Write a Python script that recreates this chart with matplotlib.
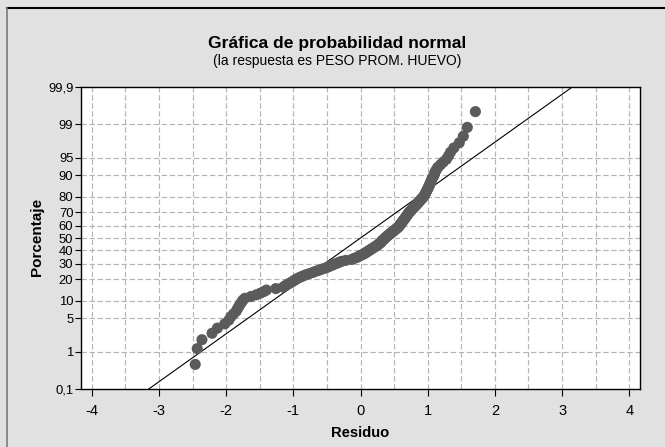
import matplotlib
matplotlib.use("Agg")
import matplotlib.pyplot as plt
from matplotlib import font_manager
from matplotlib.lines import Line2D
from statistics import NormalDist

# sorted residuals (n = 144)
residuals = [
    -2.46, -2.43, -2.36, -2.21, -2.13, -2.02, -1.96, -1.93, -1.89, -1.85,
    -1.83, -1.81, -1.79, -1.77, -1.75, -1.72, -1.63, -1.55, -1.49, -1.44,
    -1.40, -1.26, -1.15, -1.12, -1.09, -1.05, -1.02, -0.99, -0.96, -0.93,
    -0.89, -0.85, -0.81, -0.76, -0.71, -0.67, -0.62, -0.58, -0.53, -0.49,
    -0.46, -0.42, -0.39, -0.35, -0.32, -0.28, -0.22, -0.13, -0.10, -0.06,
    -0.03, -0.01, 0.02, 0.05, 0.07, 0.09, 0.11, 0.13, 0.15, 0.17,
    0.19, 0.21, 0.23, 0.25, 0.27, 0.28, 0.30, 0.31, 0.32, 0.33,
    0.35, 0.36, 0.37, 0.39, 0.40, 0.42, 0.43, 0.45, 0.46, 0.48,
    0.50, 0.51, 0.53, 0.54, 0.56, 0.57, 0.58, 0.59, 0.60, 0.61,
    0.62, 0.63, 0.64, 0.65, 0.66, 0.67, 0.68, 0.69, 0.70, 0.71,
    0.72, 0.73, 0.75, 0.76, 0.77, 0.79, 0.80, 0.82, 0.83, 0.85,
    0.86, 0.88, 0.89, 0.91, 0.92, 0.94, 0.95, 0.96, 0.97, 0.98,
    0.99, 1.00, 1.01, 1.02, 1.03, 1.04, 1.05, 1.06, 1.07, 1.09,
    1.10, 1.11, 1.13, 1.15, 1.19, 1.23, 1.28, 1.31, 1.34, 1.39,
    1.47, 1.53, 1.59, 1.71,
]

# fitted normal reference line
line_mean = 0.0
line_sd = 1.02

pct_ticks = [0.1, 1, 5, 10, 20, 30, 40, 50, 60, 70, 80, 90, 95, 99, 99.9]
pct_labels = ["0,1", "1", "5", "10", "20", "30", "40", "50", "60", "70",
              "80", "90", "95", "99", "99,9"]
x_ticks = [-4, -3, -2, -1, 0, 1, 2, 3, 4]

nd = NormalDist()


def font_or(names):
    have = {f.name for f in font_manager.fontManager.ttflist}
    for n in names:
        if n in have:
            return n
    return "DejaVu Sans"


narrow = font_or(["Liberation Sans Narrow", "DejaVu Sans Condensed", "Liberation Sans"])
sans = font_or(["Liberation Sans", "DejaVu Sans"])
plt.rcParams["axes.unicode_minus"] = False

n = len(residuals)
zvals = [nd.inv_cdf((i + 1 - 0.3) / (n + 0.4)) for i in range(n)]

fig = plt.figure(figsize=(6.65, 4.47), dpi=100, facecolor="#e1e1e1")
ax = fig.add_axes([81 / 665, 58 / 447, 559 / 665, 302 / 447])
ax.set_facecolor("white")

zlo, zhi = nd.inv_cdf(0.001), nd.inv_cdf(0.999)
ax.set_ylim(zlo, zhi)
ax.set_xlim(-4.16, 4.16)

grid_kw = dict(color="#b4b4b4", lw=0.85, linestyle=(0, (4.5, 2.3)), zorder=1)
for p in pct_ticks[1:-1]:
    ax.axhline(nd.inv_cdf(p / 100), **grid_kw)
for k in range(-8, 9):
    ax.axvline(k / 2, **grid_kw)

ax.plot([line_mean + line_sd * zlo, line_mean + line_sd * zhi], [zlo, zhi],
        color="black", lw=0.8, zorder=2)
ax.scatter(residuals, zvals, s=64, color="#5b5b5b", edgecolors="none", zorder=3)

ax.set_yticks([nd.inv_cdf(p / 100) for p in pct_ticks])
ax.set_yticklabels(pct_labels, family=narrow, fontsize=9.4)
ax.set_xticks(x_ticks)
ax.set_xticklabels([str(v) for v in x_ticks], family=sans, fontsize=10.5)
ax.tick_params(axis="y", length=4.5, width=0.8, pad=1)
ax.tick_params(axis="x", length=5, width=0.8, pad=6)
for s in ax.spines.values():
    s.set_linewidth(1.0)

fig.text(337 / 665, 1 - 48 / 447, "Gráfica de probabilidad normal",
         ha="center", va="baseline", family=sans, weight="bold", fontsize=12.6)
fig.text(337 / 665, 1 - 65 / 447, "(la respuesta es PESO PROM. HUEVO)",
         ha="center", va="baseline", family=sans, fontsize=10)
fig.text(360 / 665, 1 - 437 / 447, "Residuo", ha="center", va="baseline",
         family=sans, weight="bold", fontsize=10.6)
fig.text(37 / 665, 1 - 237 / 447, "Porcentaje", ha="center", va="center",
         rotation=90, family=sans, weight="bold", fontsize=11)

# window border
fig.add_artist(Line2D([7 / 665, 1], [1 - 8 / 447, 1 - 8 / 447], color="black", lw=1.5))
fig.add_artist(Line2D([7 / 665, 7 / 665], [0, 1 - 8 / 447], color="#7a7a7a", lw=1.2))

fig.savefig("out.png", dpi=100, facecolor=fig.get_facecolor())
